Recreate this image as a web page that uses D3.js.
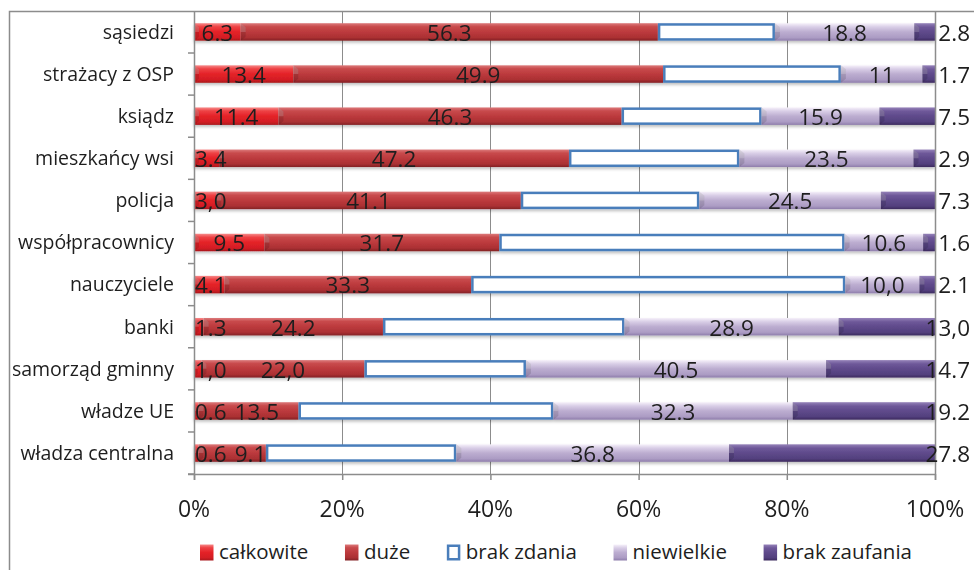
<!DOCTYPE html>
<html><head><meta charset="utf-8">
<script src="https://cdn.jsdelivr.net/npm/d3@7"></script>
<style>html,body{margin:0;padding:0;background:#fff;}svg{display:block;}</style>
</head><body>
<svg id="c" width="974" height="570"></svg>
<script>
const categories = ["sąsiedzi","strażacy z OSP","ksiądz","mieszkańcy wsi","policja","współpracownicy","nauczyciele","banki","samorząd gminny","władze UE","władza centralna"];
const seriesNames = ["całkowite","duże","brak zdania","niewielkie","brak zaufania"];
const calkowite   = [6.3, 13.4, 11.4, 3.4, 3.0, 9.5, 4.1, 1.3, 1.0, 0.6, 0.6];
const duze        = [56.3, 49.9, 46.3, 47.2, 41.1, 31.7, 33.3, 24.2, 22.0, 13.5, 9.1];
const brakZdania  = [15.8, 24.0, 18.9, 23.0, 24.1, 46.6, 50.5, 32.6, 21.8, 34.4, 25.7];
const niewielkie  = [18.8, 11.0, 15.9, 23.5, 24.5, 10.6, 10.0, 28.9, 40.5, 32.3, 36.8];
const brakZaufania= [2.8, 1.7, 7.5, 2.9, 7.3, 1.6, 2.1, 13.0, 14.7, 19.2, 27.8];
const labelsCalk  = ["6.3","13.4","11.4","3.4","3,0","9.5","4.1","1.3","1,0","0.6","0.6"];
const labelsDuze  = ["56.3","49.9","46.3","47.2","41.1","31.7","33.3","24.2","22,0","13.5","9.1"];
const labelsNiew  = ["18.8","11","15.9","23.5","24.5","10.6","10,0","28.9","40.5","32.3","36.8"];
const labelsBrak  = ["2.8","1.7","7.5","2.9","7.3","1.6","2.1","13,0","14.7","19.2","27.8"];
const xTicks = [0,20,40,60,80,100];

const seriesValues = [calkowite, duze, brakZdania, niewielkie, brakZaufania];
const seriesLabels = [labelsCalk, labelsDuze, null, labelsNiew, labelsBrak];

const svg = d3.select("#c");
const FONT = "'Open Sans', 'DejaVu Sans', sans-serif";
const pLeft = 194, pRight = 935, pTop = 11, pBottom = 474;

const x = d3.scaleLinear().domain([0,100]).range([pLeft,pRight]);
const y = d3.scaleBand().domain(categories).range([pTop,pBottom]).paddingInner(0.585).paddingOuter(0.29);

const defs = svg.append("defs");
const grads = [
  [["0","#f68a8a"],["0.2","#ee4245"],["0.5","#e42127"],["0.82","#d41e24"],["1","#a9171c"]],
  [["0","#dc7a7b"],["0.2","#c84a4c"],["0.5","#bc3a3d"],["0.82","#ab3033"],["1","#832225"]],
  null,
  [["0","#f6f1fa"],["0.22","#d8cde6"],["0.5","#bcadd0"],["0.82","#ac9cc4"],["1","#8e7dab"]],
  [["0","#9582b9"],["0.22","#6e5899"],["0.5","#5f4a8b"],["0.82","#53407e"],["1","#3c2a5e"]]
];
grads.forEach((g,i)=>{
  if(!g) return;
  const lg = defs.append("linearGradient").attr("id","g"+i).attr("x1",0).attr("y1",0).attr("x2",0).attr("y2",1);
  g.forEach(s=>lg.append("stop").attr("offset",s[0]).attr("stop-color",s[1]));
});
const flt = defs.append("filter").attr("id","sh").attr("x","-5%").attr("y","-30%").attr("width","110%").attr("height","180%");
flt.append("feDropShadow").attr("dx",0).attr("dy",2).attr("stdDeviation",1.5).attr("flood-color","#000").attr("flood-opacity",0.25);

// outer frame
svg.append("rect").attr("x",9.5).attr("y",11.5).attr("width",1000).attr("height",700)
  .attr("fill","none").attr("stroke","#8c8c8c").attr("stroke-width",1.5);

// gridlines
svg.append("g").selectAll("line").data(xTicks.slice(1)).join("line")
  .attr("x1",d=>Math.round(x(d))+0.5).attr("x2",d=>Math.round(x(d))+0.5)
  .attr("y1",pTop).attr("y2",pBottom)
  .attr("stroke","#8c8c8c").attr("stroke-width",1);

// stacked data
const stacked = categories.map((c,i)=>{
  let acc = 0;
  const tot = seriesValues.reduce((s,a)=>s+a[i],0);
  return seriesValues.map((arr,k)=>{
    const v = arr[i]/tot*100;
    const seg = {cat:c, k, x0:acc, x1:acc+v, label: seriesLabels[k] ? seriesLabels[k][i] : null};
    acc += v;
    return seg;
  });
});
const segs = stacked.flat();

const bh = y.bandwidth();
const gBars = svg.append("g").attr("filter","url(#sh)");
segs.forEach(s=>{
  const x0 = x(s.x0), x1 = x(s.x1), yy = y(s.cat);
  if(s.k===2){
    gBars.append("rect").attr("x",x0+1.25).attr("y",yy+1.25).attr("width",Math.max(0,x1-x0-2.5)).attr("height",bh-2.5)
      .attr("fill","#fff").attr("stroke","#4a7ebb").attr("stroke-width",2.5);
  } else {
    gBars.append("rect").attr("x",x0).attr("y",yy).attr("width",x1-x0).attr("height",bh)
      .attr("fill","url(#g"+s.k+")");
    const w = Math.min(5, (x1-x0)/2);
    gBars.append("polygon")
      .attr("points",[[x0,yy],[x0+w,yy+4],[x0+w,yy+bh-4],[x0,yy+bh]].map(p=>p.join(",")).join(" "))
      .attr("fill","#000").attr("opacity",0.12);
    gBars.append("polygon")
      .attr("points",[[x0,yy],[x0+w,yy+4],[x0+w,yy+bh/2],[x0,yy+bh/2]].map(p=>p.join(",")).join(" "))
      .attr("fill","#fff").attr("opacity",0.18);
  }
});

// axes lines
const axCol = "#8c8c8c";
svg.append("line").attr("x1",pLeft+0.5).attr("x2",pLeft+0.5).attr("y1",pTop).attr("y2",pBottom+6)
  .attr("stroke",axCol).attr("stroke-width",1.5);
svg.append("line").attr("x1",pLeft-6).attr("x2",pRight).attr("y1",pBottom+0.5).attr("y2",pBottom+0.5)
  .attr("stroke",axCol).attr("stroke-width",1.5);
svg.append("line").attr("x1",pRight+0.5).attr("x2",pRight+0.5).attr("y1",pTop).attr("y2",pBottom+6)
  .attr("stroke",axCol).attr("stroke-width",1.5);
const step = y.step();
const bandTops = categories.map(c=>y(c)-(step-bh)/2).concat([pBottom]);
svg.append("g").selectAll("line").data(bandTops.slice(1)).join("line")
  .attr("x1",pLeft-6).attr("x2",pLeft).attr("y1",d=>d).attr("y2",d=>d)
  .attr("stroke",axCol).attr("stroke-width",1.5);
svg.append("g").selectAll("line").data(xTicks).join("line")
  .attr("x1",d=>x(d)+0.5).attr("x2",d=>x(d)+0.5).attr("y1",pBottom).attr("y2",pBottom+6)
  .attr("stroke",axCol).attr("stroke-width",1.5);

// category labels
svg.append("g").selectAll("text").data(categories).join("text")
  .attr("x",pLeft-20).attr("y",d=>y(d)+bh/2).attr("dy","0.35em")
  .attr("text-anchor","end").attr("font-family",FONT).attr("font-size",19.5).attr("fill","#1e1e1e")
  .text(d=>d);

// x tick labels
svg.append("g").selectAll("text").data(xTicks).join("text")
  .attr("x",d=>x(d)).attr("y",509).attr("dy","0.35em").attr("text-anchor","middle")
  .attr("font-family",FONT).attr("font-size",23).attr("fill","#1e1e1e")
  .text(d=>d+"%");

// data labels (centered, nudged right to avoid overlap with axis / previous label)
const gLab = svg.append("g").attr("font-family",FONT).attr("font-size",22.5).attr("fill","#1e1e1e");
stacked.forEach(row=>{
  let prevEnd = -Infinity;
  row.forEach(s=>{
    if(s.label===null) return;
    const yy = y(s.cat)+bh/2+1;
    const t = gLab.append("text").attr("y",yy).attr("dy","0.35em").text(s.label);
    if(s.k===4){
      t.attr("x",x(100)+35).attr("text-anchor","end");
      return;
    }
    const w = t.node().getComputedTextLength();
    let start = x((s.x0+s.x1)/2) - w/2;
    start = Math.max(start, x(s.x0)+1, prevEnd+8);
    t.attr("x",start).attr("text-anchor","start");
    prevEnd = start + w;
  });
});

// legend
const lgd = svg.append("g");
const legY = 552;
const items = [];
seriesNames.forEach((n,i)=>{
  const g = lgd.append("g");
  if(i===2){
    g.append("rect").attr("x",1.25).attr("y",-7.5+1.25).attr("width",11).attr("height",13.5)
      .attr("fill","#fff").attr("stroke","#4a7ebb").attr("stroke-width",2.5);
  } else {
    g.append("rect").attr("x",0).attr("y",-7.5).attr("width",13.5).attr("height",16).attr("fill","url(#g"+i+")");
  }
  const t = g.append("text").attr("x",19).attr("y",0).attr("dy","0.35em")
    .attr("font-family",FONT).attr("font-size",20.5).attr("fill","#1e1e1e").text(n);
  const w = 19 + t.node().getComputedTextLength();
  items.push({g,w});
});
const legStart = 200, legEnd = 912;
const gap = (legEnd - legStart - items.reduce((s,it)=>s+it.w,0)) / (items.length-1);
let cx = legStart;
items.forEach(it=>{ it.g.attr("transform",`translate(${cx},${legY})`); cx += it.w + gap; });
</script>
</body></html>
